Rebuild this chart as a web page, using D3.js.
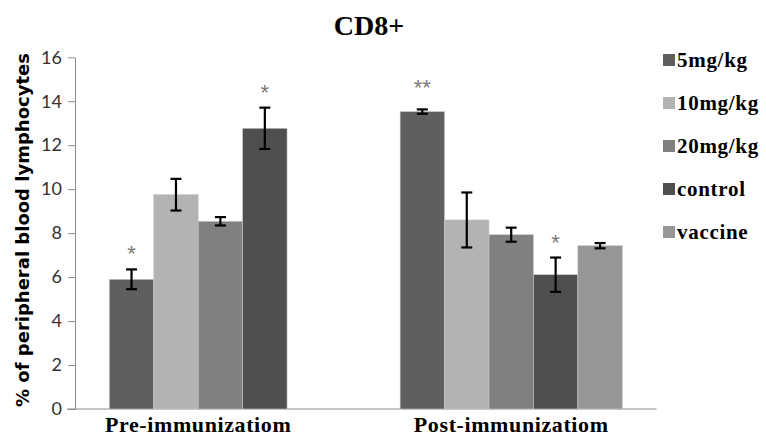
<!DOCTYPE html>
<html>
<head>
<meta charset="utf-8">
<script src="https://cdn.jsdelivr.net/npm/d3@7"></script>
<style>
  html, body { margin: 0; padding: 0; background: #fff; }
  svg { display: block; }
</style>
</head>
<body>
<svg id="chart" width="766" height="437"></svg>
<script>
// ---- data ----
const title = "CD8+";
const yTitle = "% of peripheral blood lymphocytes";
const categories = ["Pre-immunizatiom", "Post-immunizatiom"];
const seriesNames = ["5mg/kg", "10mg/kg", "20mg/kg", "control", "vaccine"];
const seriesColors = ["#5f5f5f", "#b3b3b3", "#808080", "#4f4f4f", "#969696"];
// values per series: [pre, post]  (null = no bar)
const values = [
  [5.9, 13.53],
  [9.75, 8.6],
  [8.54, 7.93],
  [12.77, 6.11],
  [null, 7.43]
];
const errors = [
  [0.45, 0.1],
  [0.72, 1.25],
  [0.19, 0.32],
  [0.94, 0.78],
  [null, 0.12]
];
const significance = [
  ["*", "**"],
  ["", ""],
  ["", ""],
  ["*", "*"],
  ["", ""]
];
const yTicks = [0, 2, 4, 6, 8, 10, 12, 14, 16];

// ---- layout ----
const svg = d3.select("#chart");
const plot = { left: 75, right: 656.6, top: 57.3, bottom: 409 };

const x0 = d3.scaleBand().domain(categories).range([plot.left, plot.right]).paddingInner(0.236).paddingOuter(0.118);
const x1 = d3.scaleBand().domain(seriesNames).range([0, x0.bandwidth()]).padding(0);
const y = d3.scaleLinear().domain([0, 16]).range([plot.bottom, plot.top]);

// y axis
const yAxis = d3.axisLeft(y).tickValues(yTicks).tickSize(7).tickPadding(6).tickSizeOuter(0);
const gy = svg.append("g").attr("transform", `translate(${plot.left},0)`).call(yAxis);
gy.select(".domain").attr("stroke", "#8c8c8c");
gy.selectAll(".tick line").attr("stroke", "#8c8c8c");
gy.selectAll(".tick text").attr("font-family", "Lato, 'Open Sans', sans-serif").attr("font-size", 18).attr("fill", "#333");

// x axis line
svg.append("line").attr("x1", 67).attr("x2", plot.right).attr("y1", plot.bottom).attr("y2", plot.bottom)
  .attr("stroke", "#8c8c8c").attr("stroke-width", 1);

// bars
const flat = [];
seriesNames.forEach((s, si) => {
  categories.forEach((c, ci) => {
    if (values[si][ci] != null) flat.push({ s, si, c, ci, v: values[si][ci], e: errors[si][ci], sig: significance[si][ci] });
  });
});

svg.append("g").selectAll("rect").data(flat).join("rect")
  .attr("x", d => x0(d.c) + x1(d.s))
  .attr("width", x1.bandwidth())
  .attr("y", d => y(d.v))
  .attr("height", d => y(0) - y(d.v))
  .attr("fill", d => seriesColors[d.si])
  .attr("stroke", "#c8c8c8").attr("stroke-width", 0.6);

// error bars
const eg = svg.append("g").attr("stroke", "#000").attr("stroke-width", 2.2);
flat.forEach(d => {
  const cx = x0(d.c) + x1(d.s) + x1.bandwidth() / 2;
  eg.append("line").attr("x1", cx).attr("x2", cx).attr("y1", y(d.v + d.e)).attr("y2", y(d.v - d.e));
  eg.append("line").attr("x1", cx - 5.5).attr("x2", cx + 5.5).attr("y1", y(d.v + d.e)).attr("y2", y(d.v + d.e));
  eg.append("line").attr("x1", cx - 5.5).attr("x2", cx + 5.5).attr("y1", y(d.v - d.e)).attr("y2", y(d.v - d.e));
});

// significance marks
svg.append("g").selectAll("text").data(flat.filter(d => d.sig)).join("text")
  .attr("x", d => x0(d.c) + x1(d.s) + x1.bandwidth() / 2)
  .attr("y", d => y(d.v + d.e) - (d.sig === "**" ? 14 : 8))
  .attr("text-anchor", "middle")
  .attr("font-family", "'Liberation Sans', sans-serif")
  .attr("font-size", 22)
  .attr("fill", "#7a7a7a")
  .text(d => d.sig);

// category labels centred under drawn bars
categories.forEach((c, ci) => {
  const present = seriesNames.filter((s, si) => values[si][ci] != null);
  const xa = x0(c) + x1(present[0]);
  const xb = x0(c) + x1(present[present.length - 1]) + x1.bandwidth();
  svg.append("text").attr("x", (xa + xb) / 2).attr("y", 432)
    .attr("text-anchor", "middle")
    .attr("font-family", "'Liberation Serif', 'Times New Roman', serif")
    .attr("font-weight", "bold").attr("font-size", 22)
    .attr("letter-spacing", 0.6)
    .text(c);
});

// title
svg.append("text").attr("x", 369).attr("y", 35).attr("text-anchor", "middle")
  .attr("font-family", "'Liberation Serif', 'Times New Roman', serif")
  .attr("font-weight", "bold").attr("font-size", 28).text(title);

// y title
svg.append("text").attr("transform", `translate(29,230) rotate(-90)`)
  .attr("text-anchor", "middle")
  .attr("font-family", "'DejaVu Sans', sans-serif")
  .attr("font-weight", "bold").attr("font-size", 18)
  .text(yTitle);

// legend
const lg = svg.append("g").attr("transform", "translate(663,54)");
seriesNames.forEach((s, i) => {
  const row = lg.append("g").attr("transform", `translate(0,${i * 43})`);
  row.append("rect").attr("width", 12).attr("height", 12).attr("fill", seriesColors[i]);
  row.append("text").attr("x", 14).attr("y", 13)
    .attr("font-family", "'Liberation Serif', 'Times New Roman', serif")
    .attr("font-weight", "bold").attr("font-size", 21)
    .attr("letter-spacing", 0.7)
    .text(s);
});
</script>
</body>
</html>
